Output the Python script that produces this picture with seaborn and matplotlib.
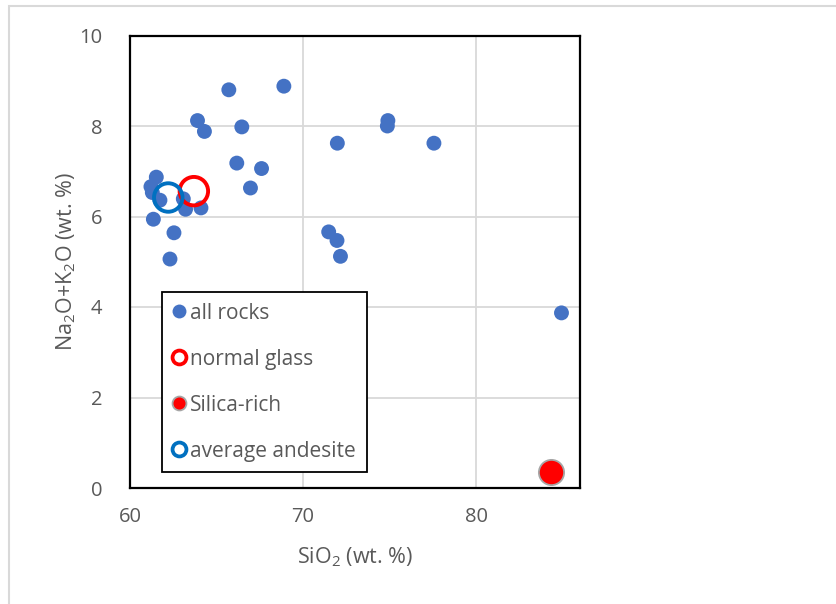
import matplotlib
matplotlib.use("Agg")
import matplotlib.pyplot as plt
from matplotlib.lines import Line2D
from matplotlib.patches import Rectangle
import seaborn as sns
import pandas as pd

# Whole-rock compositions (wt. %)
rocks_sio2 = [65.71, 68.89, 63.90, 64.30, 66.46, 71.98, 74.90, 74.87, 77.56,
              66.17, 67.60, 66.96, 61.52, 61.21, 61.29, 61.73, 63.08, 63.21,
              64.10, 61.35, 62.54, 62.31, 71.48, 71.96, 72.16, 84.93]
rocks_alk = [8.80, 8.88, 8.12, 7.88, 7.98, 7.62, 8.12, 8.00, 7.62,
             7.18, 7.06, 6.63, 6.87, 6.66, 6.53, 6.36, 6.39, 6.16,
             6.19, 5.94, 5.64, 5.06, 5.66, 5.47, 5.12, 3.87]

# Glass and reference compositions
normal_glass_sio2 = [63.69]
normal_glass_alk = [6.56]
silica_rich_sio2 = [84.35]
silica_rich_alk = [0.35]
andesite_sio2 = [62.21]
andesite_alk = [6.42]

series_names = ["all rocks", "normal glass", "Silica-rich", "average andesite"]
x_ticks = [60, 70, 80]
y_ticks = [0, 2, 4, 6, 8, 10]

sns.set_theme(style="white")
plt.rcParams["font.family"] = ["Open Sans", "DejaVu Sans"]
plt.rcParams["mathtext.default"] = "regular"
text_grey = "#595959"

fig = plt.figure(figsize=(8.37, 6.04), dpi=100)
fig.patches.append(Rectangle((9 / 837, -0.1), 1.2, (604 - 6) / 604 + 0.1,
                             transform=fig.transFigure, fill=False,
                             edgecolor="#d9d9d9", linewidth=1.5, zorder=0))
ax = fig.add_axes([130 / 837, (604 - 488) / 604, 450 / 837, 452.5 / 604])

df_rocks = pd.DataFrame({"SiO2": rocks_sio2, "alk": rocks_alk})
sns.scatterplot(data=df_rocks, x="SiO2", y="alk", ax=ax, s=115,
                color="#4472c4", edgecolor="none", zorder=3)
sns.scatterplot(x=normal_glass_sio2, y=normal_glass_alk, ax=ax, s=420,
                facecolor="none", edgecolor="#ff0000", linewidth=2.8, zorder=4)
sns.scatterplot(x=silica_rich_sio2, y=silica_rich_alk, ax=ax, s=330,
                color="#ff0000", edgecolor="#a6a6a6", linewidth=1.3, zorder=4)
sns.scatterplot(x=andesite_sio2, y=andesite_alk, ax=ax, s=420,
                facecolor="none", edgecolor="#0070c0", linewidth=2.8, zorder=4)

ax.set_xlim(60, 86)
ax.set_ylim(0, 10)
ax.set_xticks(x_ticks)
ax.set_yticks(y_ticks)
ax.grid(True, color="#d9d9d9", linewidth=1.3, zorder=0)
ax.set_axisbelow(True)
for sp in ax.spines.values():
    sp.set_color("black")
    sp.set_linewidth(1.6)
ax.tick_params(axis="x", colors=text_grey, labelsize=14.5, length=0, pad=14)
ax.tick_params(axis="y", colors=text_grey, labelsize=14.5, length=0, pad=20)
ax.set_xlabel("SiO$_2$ (wt. %)", color=text_grey, fontsize=15.5, labelpad=13)
ax.set_ylabel("Na$_2$O+K$_2$O (wt. %)", color=text_grey, fontsize=15.5, labelpad=1)

handles = [
    Line2D([], [], linestyle="none", marker="o", markersize=10,
           markerfacecolor="#4472c4", markeredgecolor="none"),
    Line2D([], [], linestyle="none", marker="o", markersize=10,
           markerfacecolor="white", markeredgecolor="#ff0000", markeredgewidth=2.7),
    Line2D([], [], linestyle="none", marker="o", markersize=10,
           markerfacecolor="#ff0000", markeredgecolor="#a6a6a6", markeredgewidth=1.3),
    Line2D([], [], linestyle="none", marker="o", markersize=10,
           markerfacecolor="white", markeredgecolor="#0070c0", markeredgewidth=2.7),
]
leg = ax.legend(handles, series_names, loc="lower left",
                bbox_to_anchor=(0.0718, 0.0354), fontsize=15,
                frameon=True, fancybox=False, framealpha=1, edgecolor="black",
                labelspacing=1.2, handlelength=0.6, handletextpad=0.25,
                borderpad=0.5, borderaxespad=0)
leg.get_frame().set_linewidth(1.3)
for t in leg.get_texts():
    t.set_color(text_grey)

fig.savefig("out.png", dpi=100)
